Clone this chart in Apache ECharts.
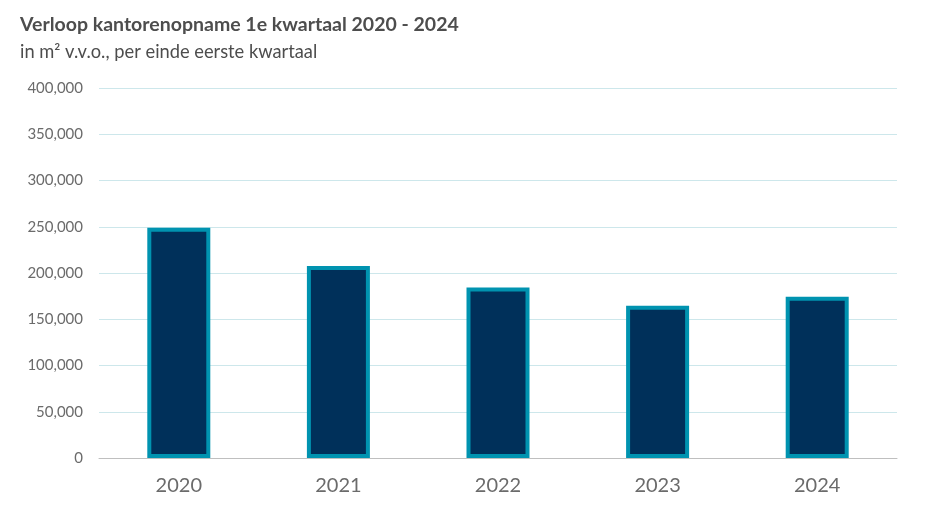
<!DOCTYPE html>
<html>
<head>
<meta charset="utf-8">
<script src="https://cdn.jsdelivr.net/npm/echarts@6/dist/echarts.min.js"></script>
<style>
  html, body { margin: 0; padding: 0; background: #fff; }
  #chart { width: 925px; height: 514px; }
</style>
</head>
<body>
<div id="chart"></div>
<script>
// data
var years = ['2020', '2021', '2022', '2023', '2024'];
var opname = [249000, 207600, 184200, 164500, 174200];
var yTicks = [0, 50000, 100000, 150000, 200000, 250000, 300000, 350000, 400000];

var chart = echarts.init(document.getElementById('chart'));

chart.setOption({
  backgroundColor: '#fff',
  animation: false,
  textStyle: { fontFamily: 'Lato, "Open Sans", sans-serif' },
  title: {
    text: 'Verloop kantorenopname 1e kwartaal 2020 - 2024',
    subtext: 'in m² v.v.o., per einde eerste kwartaal',
    left: 15,
    top: 10,
    itemGap: 8,
    textStyle: { fontSize: 19.5, fontWeight: 'bold', color: '#4d4d4d', fontFamily: 'Lato' },
    subtextStyle: { fontSize: 18.3, color: '#4d4d4d', fontFamily: 'Lato' }
  },
  grid: { left: 99, right: 28, top: 88, bottom: 56, containLabel: false },
  xAxis: {
    type: 'category',
    data: years,
    axisTick: { show: false },
    axisLine: { lineStyle: { color: '#bfbfbf', width: 1 } },
    axisLabel: { fontSize: 20, color: '#6b6b6b', margin: 18, fontFamily: 'Lato' }
  },
  yAxis: {
    type: 'value',
    min: yTicks[0],
    max: yTicks[yTicks.length - 1],
    interval: 50000,
    axisLine: { show: false },
    axisTick: { show: false },
    splitLine: { lineStyle: { color: '#cde7eb', width: 1 } },
    axisLabel: {
      fontSize: 15,
      color: '#6b6b6b',
      margin: 16,
      fontFamily: 'Lato',
      formatter: function (v) { return v.toLocaleString('en-US'); }
    }
  },
  series: [{
    type: 'bar',
    data: opname,
    barWidth: 63,
    itemStyle: {
      color: '#00305a',
      borderColor: '#0093b0',
      borderWidth: 4
    }
  }]
});
</script>
</body>
</html>
